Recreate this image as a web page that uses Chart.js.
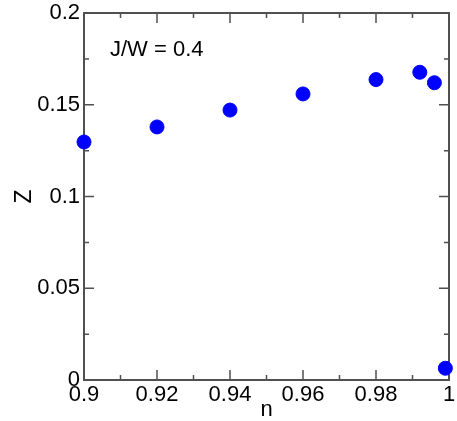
<!DOCTYPE html>
<html>
<head>
<meta charset="utf-8">
<title>Z vs n</title>
<script src="https://cdn.jsdelivr.net/npm/chart.js@4/dist/chart.umd.min.js"></script>
<style>
  html, body { margin: 0; padding: 0; background: #fff; }
  #wrap { width: 457px; height: 421px; }
</style>
</head>
<body>
<div id="wrap"><canvas id="zChart"></canvas></div>
<script>
// filling n and quasiparticle weight Z
const nValues = [0.9, 0.92, 0.94, 0.96, 0.98, 0.992, 0.996, 0.999];
const zValues = [0.1297, 0.1379, 0.1471, 0.1559, 0.1637, 0.1677, 0.162, 0.0064];

const xTicks = [0.9, 0.92, 0.94, 0.96, 0.98, 1];
const xMinorTicks = [0.91, 0.93, 0.95, 0.97, 0.99];
const yTicks = [0, 0.05, 0.1, 0.15, 0.2];
const yMinorTicks = [0.025, 0.075, 0.125, 0.175];

const labelText = 'J/W = 0.4';

const FONT = 'Liberation Sans, Arial, Helvetica, sans-serif';
const AXIS_COLOR = '#505050';

// box around the plot with inward tick marks on all four sides
const frameTicks = {
    id: 'frameTicks',
    beforeDatasetsDraw(chart) {
        const { ctx, chartArea: a, scales: { x, y } } = chart;
        ctx.save();
        ctx.strokeStyle = AXIS_COLOR;
        ctx.lineWidth = 2;
        ctx.strokeRect(a.left, a.top, a.right - a.left, a.bottom - a.top);
        ctx.lineWidth = 1.5;
        const tickX = (v, len) => {
            const px = x.getPixelForValue(v);
            ctx.beginPath();
            ctx.moveTo(px, a.bottom); ctx.lineTo(px, a.bottom - len);
            ctx.moveTo(px, a.top); ctx.lineTo(px, a.top + len);
            ctx.stroke();
        };
        const tickY = (v, len) => {
            const py = y.getPixelForValue(v);
            ctx.beginPath();
            ctx.moveTo(a.left, py); ctx.lineTo(a.left + len, py);
            ctx.moveTo(a.right, py); ctx.lineTo(a.right - len, py);
            ctx.stroke();
        };
        xTicks.forEach(v => tickX(v, 10));
        xMinorTicks.forEach(v => tickX(v, 5));
        yTicks.forEach(v => tickY(v, 10));
        yMinorTicks.forEach(v => tickY(v, 5));
        ctx.restore();
    },
    afterDraw(chart) {
        const { ctx, chartArea: a } = chart;
        ctx.save();
        ctx.fillStyle = '#000';
        ctx.font = '22px ' + FONT;
        ctx.textBaseline = 'middle';
        ctx.fillText(labelText, a.left + 26, a.top + 37);
        ctx.restore();
    }
};

new Chart(document.getElementById('zChart'), {
    type: 'scatter',
    data: {
        datasets: [{
            data: nValues.map((n, i) => ({ x: n, y: zValues[i] })),
            backgroundColor: '#0000ff',
            borderColor: '#0000ff',
            pointRadius: 7,
            pointHoverRadius: 7,
            clip: false
        }]
    },
    options: {
        responsive: true,
        maintainAspectRatio: false,
        animation: false,
        events: [],
        layout: { padding: { left: 0, top: 13, right: 6, bottom: 0 } },
        plugins: { legend: { display: false }, tooltip: { enabled: false } },
        scales: {
            x: {
                type: 'linear',
                min: 0.9,
                max: 1,
                afterBuildTicks: s => { s.ticks = xTicks.map(v => ({ value: v })); },
                afterFit: s => { s.height = 41; s.paddingLeft = 0; s.paddingRight = 0; },
                grid: { display: false, drawTicks: false },
                border: { display: false },
                ticks: {
                    padding: 2,
                    color: '#000',
                    maxRotation: 0,
                    autoSkip: false,
                    font: { family: FONT, size: 22 },
                    callback: v => String(+v.toFixed(2))
                },
                title: {
                    display: true,
                    text: 'n',
                    color: '#000',
                    font: { family: FONT, size: 22, lineHeight: 1 },
                    padding: 0
                }
            },
            y: {
                type: 'linear',
                min: 0,
                max: 0.2,
                afterBuildTicks: s => { s.ticks = yTicks.map(v => ({ value: v })); },
                afterFit: s => { s.width = 84; s.paddingTop = 0; s.paddingBottom = 0; },
                grid: { display: false, drawTicks: false },
                border: { display: false },
                ticks: {
                    padding: 4,
                    color: '#000',
                    autoSkip: false,
                    font: { family: FONT, size: 22 },
                    callback: v => String(+v.toFixed(2))
                },
                title: {
                    display: true,
                    text: 'Z',
                    color: '#000',
                    font: { family: FONT, size: 23, lineHeight: 1 },
                    padding: { top: 13 }
                }
            }
        }
    },
    plugins: [frameTicks]
});
</script>
</body>
</html>
